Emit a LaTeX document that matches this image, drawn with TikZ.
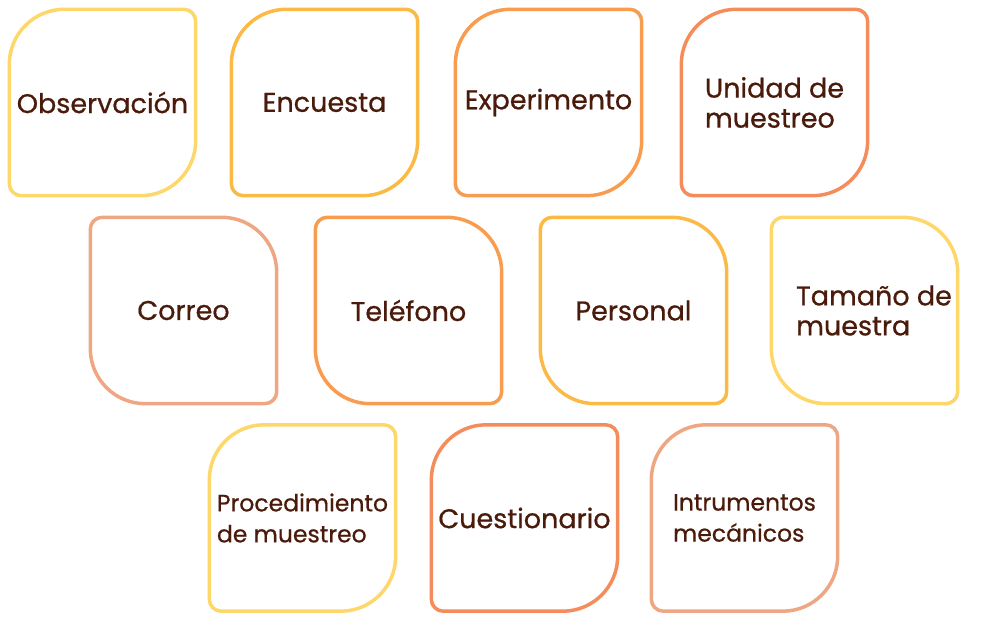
\documentclass[tikz,border=0pt]{standalone}
\usepackage{fontspec}
\setmainfont{Poppins}[FakeBold=0.7, AutoFakeBold=0.7]
\usetikzlibrary{calc}

\definecolor{ink}{HTML}{4A1A0A}
\definecolor{sand}{HTML}{FDD769}
\definecolor{amber}{HTML}{FBBA45}
\definecolor{tangerine}{HTML}{F89C50}
\definecolor{coral}{HTML}{F58C5C}
\definecolor{peach}{HTML}{EFA682}

\tikzset{
  leaf/.style={minimum width=186pt, minimum height=186pt, inner sep=0pt,
    text=ink, font=\fontsize{27}{30}\selectfont\bfseries, align=left},
  small/.style={font=\fontsize{23.5}{31}\selectfont\bfseries},
  rim/.style={line width=3.5pt}
}

% big and small corner radius
\def\Rb{55}
\def\rs{12}

% leaf with big top left and bottom right corners
\newcommand{\leafA}[2]{%
  \draw[rim, #2] ($(#1.north west)+(0,-\Rb)$) arc[start angle=180, end angle=90, radius=\Rb]
    -- ($(#1.north east)+(-\rs,0)$) arc[start angle=90, end angle=0, radius=\rs]
    -- ($(#1.south east)+(0,\Rb)$) arc[start angle=0, end angle=-90, radius=\Rb]
    -- ($(#1.south west)+(\rs,0)$) arc[start angle=270, end angle=180, radius=\rs]
    -- cycle;}

% leaf with big top right and bottom left corners
\newcommand{\leafB}[2]{%
  \draw[rim, #2] ($(#1.north west)+(0,-\rs)$) arc[start angle=180, end angle=90, radius=\rs]
    -- ($(#1.north east)+(-\Rb,0)$) arc[start angle=90, end angle=0, radius=\Rb]
    -- ($(#1.south east)+(0,\rs)$) arc[start angle=0, end angle=-90, radius=\rs]
    -- ($(#1.south west)+(\Rb,0)$) arc[start angle=270, end angle=180, radius=\Rb]
    -- cycle;}

\begin{document}
\begin{tikzpicture}[x=1pt, y=1pt]

  \useasboundingbox (0,0) rectangle (984,629);

  % first row
  \node[leaf] (obs) at (102.5,526.5) {Observación};
  \node[leaf] (enc) at (324.5,526.5) {Encuesta};
  \node[leaf] (exp) at (548.5,526.5) {Experimento};
  \node[leaf] (uni) at (774.5,526.5) {Unidad de\\muestreo};

  % second row
  \node[leaf] (cor) at (183.5,318.5) {Correo};
  \node[leaf] (tel) at (408.5,318.5) {Teléfono};
  \node[leaf] (per) at (633.5,318.5) {Personal};
  \node[leaf] (tam) at (874,318.5) {Tamaño de\\muestra};

  % third row
  \node[leaf, small] (pro) at (302.5,111) {Procedimiento\\de muestreo};
  \node[leaf] (cue) at (524.5,111) {Cuestionario};
  \node[leaf, small] (ins) at (744.5,111) {Intrumentos\\mecánicos};

  % outlines
  \leafA{obs}{sand}
  \leafA{enc}{amber}
  \leafA{exp}{tangerine}
  \leafA{uni}{coral}
  \leafB{cor}{peach}
  \leafB{tel}{tangerine}
  \leafB{per}{amber}
  \leafA{pro}{sand}
  \leafA{cue}{coral}
  \leafA{ins}{peach}

  % the last box sits left of its text
  \path (864.5,318.5) node[leaf] (tambox) {};
  \leafB{tambox}{sand}

\end{tikzpicture}
\end{document}
